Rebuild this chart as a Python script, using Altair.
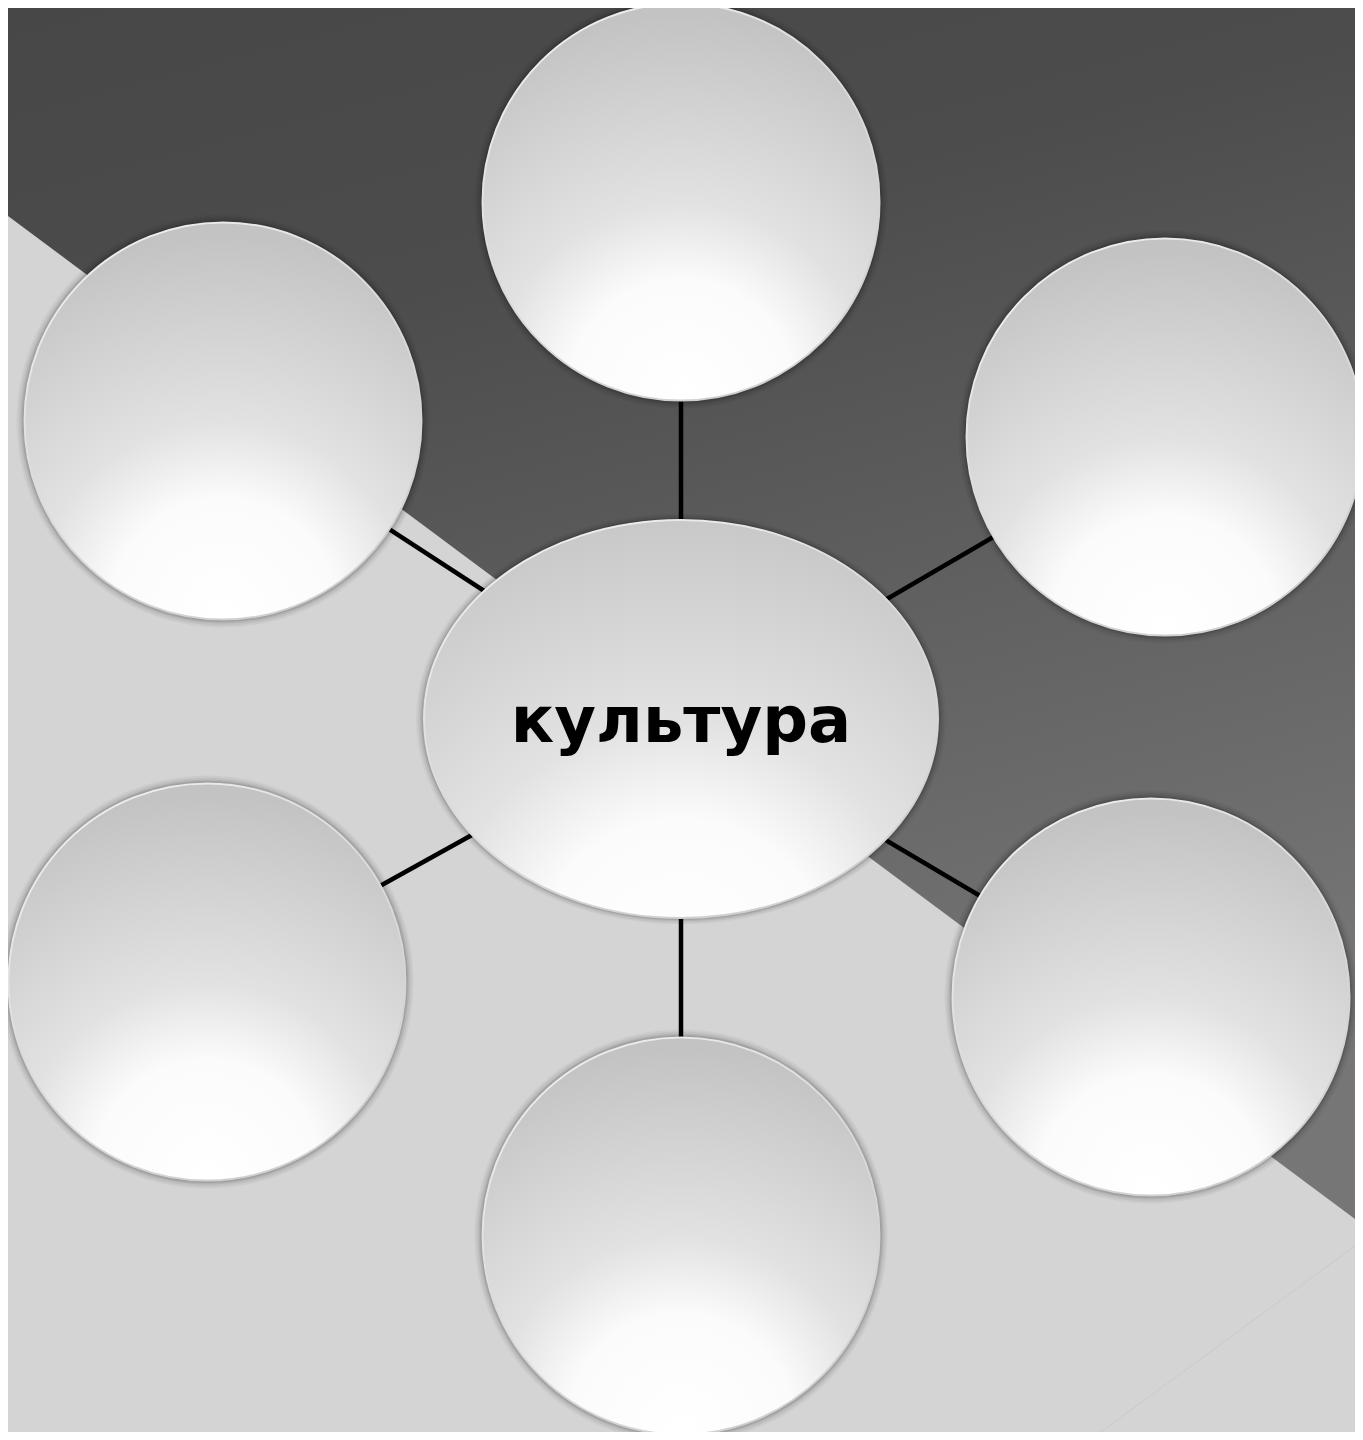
import altair as alt
import pandas as pd

# ---- data (image pixel coordinates) ----
node_names = ["top", "upper_left", "upper_right", "lower_left", "lower_right", "bottom"]
node_x = [681, 223, 1165, 207, 1151, 681]
node_y = [202, 421, 437, 982, 997, 1236]
circle_diameter = 397

center_label = "культура"
center_x = [681]
center_y = [719]
ellipse_width = 514
ellipse_ratio = 199 / 257

bg_x = [0, 1363]
bg_edge_y = [210, 1225]
bg_top_y = [0, 0]

faint_x = [1090]
faint_y = [1440]
faint_x2 = [1363]
faint_y2 = [1240]

nodes = pd.DataFrame({"name": node_names, "x": node_x, "y": node_y})
center = pd.DataFrame({"x": center_x, "y": center_y, "label": [center_label]})
links = pd.DataFrame({"x": [center_x[0]] * len(node_x), "y": [center_y[0]] * len(node_y),
                      "x2": node_x, "y2": node_y})
bg = pd.DataFrame({"x": bg_x, "y": bg_edge_y, "y2": bg_top_y})
faint = pd.DataFrame({"x": faint_x, "y": faint_y, "x2": faint_x2, "y2": faint_y2})

W, H = 1347, 1424
xs = alt.Scale(domain=[8, 8 + W], nice=False, zero=False)
ys = alt.Scale(domain=[8, 8 + H], nice=False, zero=False, reverse=True)
X = alt.X("x:Q", scale=xs, axis=None)
Y = alt.Y("y:Q", scale=ys, axis=None)

dark_grad = alt.Gradient(
    gradient="linear", x1=0, y1=0, x2=0.3, y2=1,
    stops=[alt.GradientStop(color="#474747", offset=0),
           alt.GradientStop(color="#4c4c4c", offset=0.3),
           alt.GradientStop(color="#767676", offset=1)])

ball_grad = alt.Gradient(
    gradient="radial", x1=0.5, y1=0.98, x2=0.5, y2=0.98, r1=0, r2=0.95,
    stops=[alt.GradientStop(color="#ffffff", offset=0),
           alt.GradientStop(color="#fbfbfb", offset=0.3),
           alt.GradientStop(color="#e2e2e2", offset=0.5),
           alt.GradientStop(color="#c3c3c3", offset=1)])

rim_grad = alt.Gradient(
    gradient="linear", x1=0, y1=0, x2=0.6, y2=1,
    stops=[alt.GradientStop(color="#f4f4f4", offset=0),
           alt.GradientStop(color="#dcdcdc", offset=0.5),
           alt.GradientStop(color="#d0d0d0", offset=1)])

background = alt.Chart(bg).mark_area(color=dark_grad, clip=True).encode(
    x=X, y=Y, y2="y2:Q")

faint_line = alt.Chart(faint).mark_rule(color="#c9c9c9", strokeWidth=1, clip=True).encode(
    x=X, y=Y, x2="x2:Q", y2="y2:Q")

rules = alt.Chart(links).mark_rule(color="#000000", strokeWidth=4.5).encode(
    x=X, y=Y, x2="x2:Q", y2="y2:Q")

layers = [background, faint_line, rules]

shadow_steps = [(16, 0.04), (12, 0.05), (8, 0.07), (5, 0.09), (2, 0.12)]

# soft shadows around circles
for extra, op in shadow_steps:
    d = circle_diameter + extra
    layers.append(alt.Chart(nodes).mark_point(
        shape="circle", filled=True, size=d * d, color="#000000", opacity=op,
        strokeWidth=0, clip=True).encode(x=X, y=Y))

circles = alt.Chart(nodes).mark_point(
    shape="circle", filled=True, size=circle_diameter ** 2, fill=ball_grad, opacity=1,
    stroke=rim_grad, strokeWidth=2, clip=True).encode(x=X, y=Y)
layers.append(circles)

r = ellipse_ratio
ellipse_path = f"M-1,0A1,{r:.4f},0,1,1,1,0A1,{r:.4f},0,1,1,-1,0Z"
for extra, op in shadow_steps:
    d = ellipse_width + extra
    layers.append(alt.Chart(center).mark_point(
        shape=ellipse_path, filled=True, size=d * d, color="#000000", opacity=op,
        strokeWidth=0).encode(x=X, y=Y))

ellipse = alt.Chart(center).mark_point(
    shape=ellipse_path, filled=True, size=ellipse_width ** 2, fill=ball_grad, opacity=1,
    stroke=rim_grad, strokeWidth=2).encode(x=X, y=Y)
layers.append(ellipse)

text = alt.Chart(center).mark_text(
    font="DejaVu Sans", fontWeight="bold", fontSize=64, color="#000000",
    align="center", baseline="middle", dy=4).encode(x=X, y=Y, text="label:N")
layers.append(text)

chart = alt.layer(*layers).properties(
    width=W, height=H, padding=0, autosize=alt.AutoSizeParams(type="none"),
    background="#d4d4d4"
).configure_view(stroke=None)

chart.save("out.html", embed_options={"renderer": "svg", "actions": False})
